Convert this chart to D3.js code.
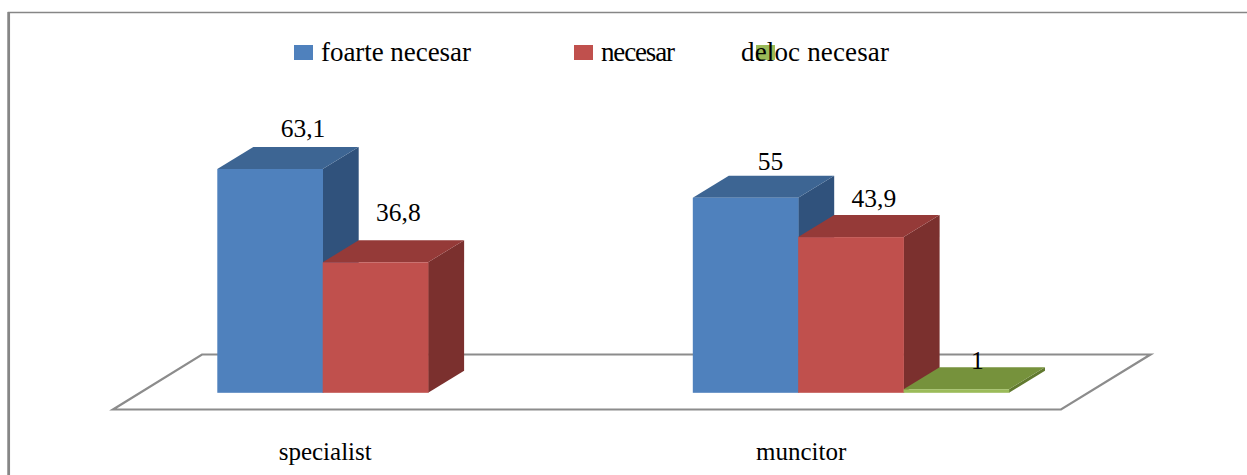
<!DOCTYPE html>
<html><head><meta charset="utf-8">
<script src="https://cdn.jsdelivr.net/npm/d3@7/dist/d3.min.js"></script>
<style>html,body{margin:0;background:#fff}svg{display:block}text{font-family:"Liberation Serif",serif;fill:#000}</style>
</head><body><svg id="c" width="1247" height="475"></svg>
<script>
const categories=["specialist","muncitor"];
const seriesNames=["foarte necesar","necesar","deloc necesar"];
const foarteNecesar=[63.1,55];
const necesar=[36.8,43.9];
const delocNecesar=[null,1];
const labels=[["63,1","55"],["36,8","43,9"],[null,"1"]];
const front=["#4f81bd","#c0504d","#9bbb59"];
const topC=["#3d6593","#953a38","#76923c"];
const side=["#30527c","#7b302e","#61792f"];
const values=[foarteNecesar,necesar,delocNecesar];

const svg=d3.select("#c");
const W=105.4, dx=36, dy=-22, step=475.5;
const x0=d3.scaleBand().domain(categories).range([217.3,217.3+step*2]);
const x1=d3.scaleBand().domain(d3.range(3)).range([0,W*3]);
const y=d3.scaleLinear().domain([0,63.1]).range([392.8,169]);

// frame
svg.append("path").attr("d","M8.5,475V12.5H1247").attr("fill","none").attr("stroke","#868686").attr("stroke-width",1.5);
svg.append("line").attr("x1",8.7).attr("x2",8.7).attr("y1",12).attr("y2",475).attr("stroke","#868686").attr("stroke-width",2.7);

// floor
svg.append("path").attr("d","M113,409.5H1061L1150.5,354.5H202Z").attr("fill","#fff").attr("stroke","#8c8c8c").attr("stroke-width",2.2);

// bars
categories.forEach((c,i)=>{
  values.forEach((vals,s)=>{
    const v=vals[i]; if(v==null) return;
    const xl=x0(c)+x1(s), xr=xl+x1.bandwidth(), yt=y(v), yb=y(0);
    const g=svg.append("g");
    g.append("path").attr("fill",side[s]).attr("d",`M${xr},${yb}L${xr+dx},${yb+dy}L${xr+dx},${yt+dy}L${xr},${yt}Z`);
    g.append("path").attr("fill",topC[s]).attr("d",`M${xl},${yt}L${xl+dx},${yt+dy}L${xr+dx},${yt+dy}L${xr},${yt}Z`);
    g.append("rect").attr("fill",front[s]).attr("x",xl).attr("y",yt).attr("width",xr-xl+0.3).attr("height",yb-yt);
  });
});

// data labels: offset from the top-centre of each bar's front face
const labelDx=[[33,25],[23,23],[0,21]];
const labelDy=[[-32,-28],[-41,-30],[0,-20]];
const labelSize=25.5;
categories.forEach((c,i)=>{
  labels.forEach((ls,s)=>{
    if(ls[i]==null) return;
    svg.append("text").attr("x",x0(c)+x1(s)+W/2+labelDx[s][i])
      .attr("y",y(values[s][i])+labelDy[s][i])
      .attr("text-anchor","middle").attr("font-size",labelSize).text(ls[i]);
  });
  svg.append("text").attr("x",x0(c)+W+(i?3:2.5)).attr("y",460).attr("text-anchor","middle").attr("font-size",25).text(c);
});

// legend
const legX=[294,574,756], legTextX=[321,601,741], legW=[150,74,148];
seriesNames.forEach((n,s)=>{
  svg.append("rect").attr("x",legX[s]).attr("y",45).attr("width",19).attr("height",15).attr("fill",front[s]);
});
seriesNames.forEach((n,s)=>{
  svg.append("text").attr("x",legTextX[s]).attr("y",61).attr("font-size",27)
    .attr("textLength",legW[s]).attr("lengthAdjust","spacing").text(n);
});
</script></body></html>
